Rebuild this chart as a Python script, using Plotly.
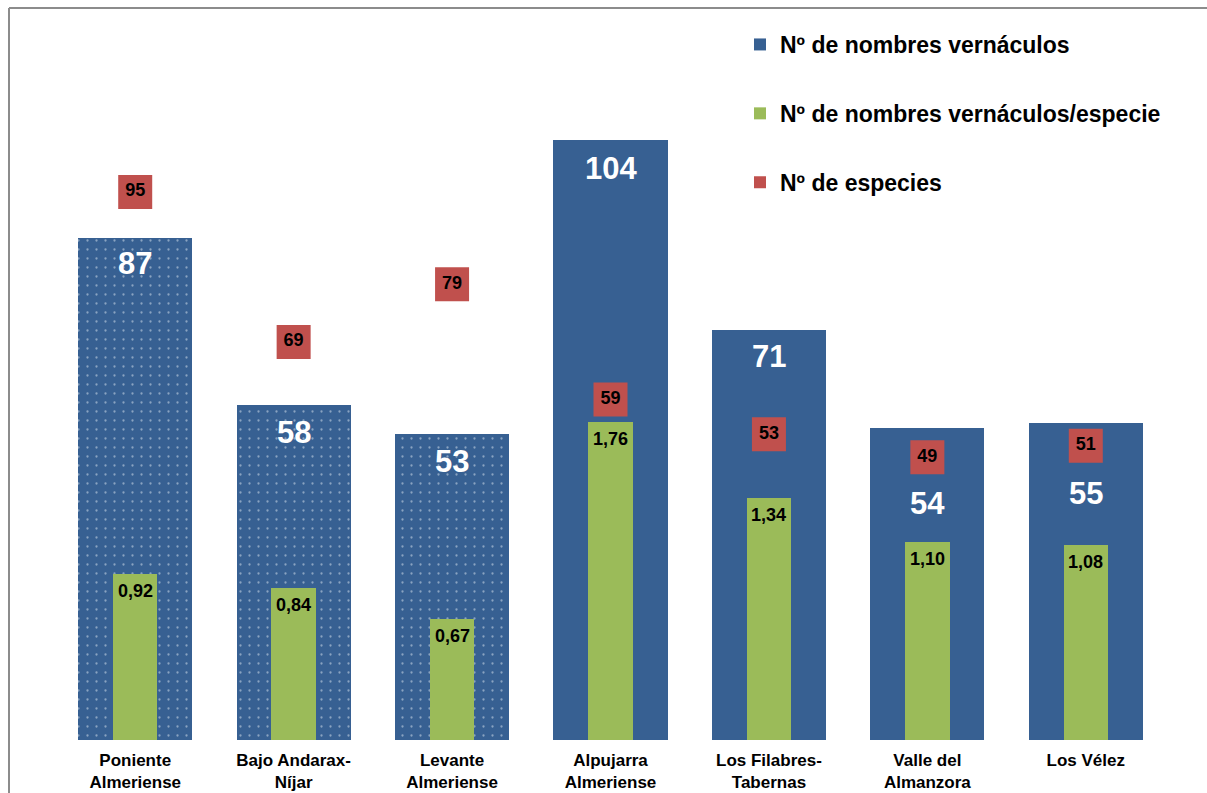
import plotly.graph_objects as go

categories = ["Poniente<br>Almeriense", "Bajo Andarax-<br>Níjar", "Levante<br>Almeriense",
              "Alpujarra<br>Almeriense", "Los Filabres-<br>Tabernas", "Valle del<br>Almanzora", "Los Vélez"]
nombres_vernaculos = [87, 58, 53, 104, 71, 54, 55]
nombres_por_especie = [0.92, 0.84, 0.67, 1.76, 1.34, 1.10, 1.08]
num_especies = [95, 69, 79, 59, 53, 49, 51]
dotted = [True, True, True, False, False, False, False]

BLUE = "#376092"
GREEN = "#9BBB59"
RED = "#C0504D"
FONT = "Liberation Sans, Arial, sans-serif"

# pixel offsets of the white labels below the bar top (style)
blue_label_shift = [25, 27, 27, 28, 26, 75, 71]

fig = go.Figure()

solid_x = [c for c, d in zip(categories, dotted) if not d]
solid_y = [v for v, d in zip(nombres_vernaculos, dotted) if not d]
dot_x = [c for c, d in zip(categories, dotted) if d]
dot_y = [v for v, d in zip(nombres_vernaculos, dotted) if d]

fig.add_trace(go.Bar(x=solid_x, y=solid_y, width=0.72, marker=dict(color=BLUE, line=dict(width=0)),
                     name="Nº de nombres vernáculos", legendgroup="a", hoverinfo="skip"))
fig.add_trace(go.Bar(x=dot_x, y=dot_y, width=0.72,
                     marker=dict(color=BLUE, line=dict(width=0),
                                 pattern=dict(shape=".", fillmode="overlay", fgcolor="#DDE6F0",
                                              size=9, solidity=0.05)),
                     showlegend=False, legendgroup="a", hoverinfo="skip"))
fig.add_trace(go.Bar(x=categories, y=nombres_por_especie, width=0.28, yaxis="y2",
                     marker=dict(color=GREEN, line=dict(width=0)),
                     name="Nº de nombres vernáculos/especie", legendgroup="b", hoverinfo="skip"))
fig.add_trace(go.Scatter(x=categories, y=num_especies, mode="markers+text",
                         marker=dict(symbol="square", size=34, color=RED),
                         text=[str(v) for v in num_especies], textposition="middle center",
                         textfont=dict(family=FONT, size=18, color="black", weight="bold"),
                         name="Nº de especies", legendgroup="c", hoverinfo="skip"))

for c, v, s in zip(categories, nombres_vernaculos, blue_label_shift):
    fig.add_annotation(x=c, y=v, yref="y", text=f"<b>{v}</b>", showarrow=False,
                       yanchor="middle", yshift=-s,
                       font=dict(family=FONT, size=31, color="white"))
for c, v in zip(categories, nombres_por_especie):
    fig.add_annotation(x=c, y=v, yref="y2", text=f"<b>{v:.2f}</b>".replace(".", ","),
                       showarrow=False, yanchor="middle", yshift=-17,
                       font=dict(family=FONT, size=18, color="black"))

L, R, T, B = 56, 42, 20, 53
W, H = 1207, 793
pw, ph = W - L - R, H - T - B
fx = lambda px: (px - L) / pw
fy = lambda py: (H - B - py) / ph

fig.add_shape(type="line", xref="paper", yref="paper", x0=fx(9), x1=fx(1300), y0=fy(8), y1=fy(8),
              line=dict(color="#8C8C8C", width=2))
fig.add_shape(type="line", xref="paper", yref="paper", x0=fx(9), x1=fx(9), y0=fy(8), y1=fy(900),
              line=dict(color="#8C8C8C", width=2))

fig.update_layout(
    width=W, height=H,
    margin=dict(l=L, r=R, t=T, b=B),
    paper_bgcolor="white", plot_bgcolor="white",
    barmode="overlay",
    bargap=0,
    font=dict(family=FONT, color="black"),
    xaxis=dict(showline=False, showgrid=False, ticks="", zeroline=False, automargin=False,
               categoryorder="array", categoryarray=categories, ticklabelstandoff=8,
               tickfont=dict(family=FONT, size=17, color="black", weight="bold")),
    yaxis=dict(range=[0, 124.8], visible=False, showgrid=False, zeroline=False),
    yaxis2=dict(range=[0, 3.99], overlaying="y", visible=False, showgrid=False, zeroline=False),
    showlegend=True,
    legend=dict(x=fx(740), xanchor="left", y=fy(23), yanchor="top",
                traceorder="grouped", tracegroupgap=36, itemsizing="constant",
                bgcolor="rgba(0,0,0,0)",
                font=dict(family=FONT, size=23, color="black", weight="bold")),
)

fig.write_html("out.html", config={"displayModeBar": False},
               post_script="document.body.style.margin='0';document.body.style.overflow='hidden';")
